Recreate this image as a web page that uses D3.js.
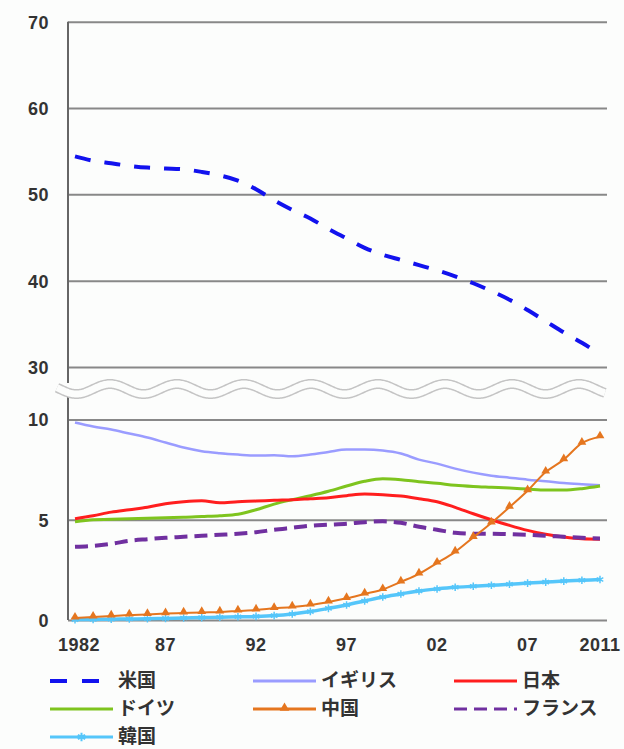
<!DOCTYPE html>
<html>
<head>
<meta charset="utf-8">
<script src="https://cdn.jsdelivr.net/npm/d3@7"></script>
<style>
  html, body { margin: 0; padding: 0; background: #fcfdfc; }
  svg { display: block; }
  .num { font-family: "Liberation Sans", Arial, sans-serif; font-weight: bold; font-size: 18px; fill: #333; }
  .leg { font-family: "Noto Sans CJK JP", sans-serif; font-weight: bold; font-size: 19px; fill: #333; }
</style>
</head>
<body>
<svg id="chart" width="624" height="749"></svg>
<script>
// Share by country, 1982–2011 (%)
const years = d3.range(1982, 2012);
const usa     = [54.4,53.9,53.6,53.3,53.1,53.0,52.9,52.6,52.2,51.6,50.6,49.3,48.2,47.2,46.0,44.9,43.8,43.0,42.4,41.8,41.2,40.5,39.7,38.8,37.8,36.6,35.3,34.0,32.8,31.5];
const uk      = [9.85,9.65,9.5,9.3,9.1,8.85,8.6,8.42,8.32,8.25,8.2,8.22,8.17,8.25,8.38,8.5,8.5,8.45,8.3,8.0,7.8,7.55,7.35,7.2,7.1,7.0,6.92,6.83,6.77,6.72];
const japan   = [5.05,5.2,5.38,5.5,5.62,5.8,5.9,5.95,5.85,5.9,5.93,5.97,6.0,6.05,6.1,6.2,6.28,6.25,6.18,6.05,5.9,5.62,5.3,5.0,4.72,4.47,4.28,4.14,4.05,4.03];
const germany = [4.9,5.0,5.02,5.05,5.07,5.1,5.12,5.16,5.2,5.27,5.5,5.78,6.0,6.2,6.42,6.68,6.92,7.05,7.0,6.9,6.82,6.72,6.66,6.62,6.58,6.53,6.48,6.48,6.55,6.68];
const china   = [0.1,0.15,0.2,0.25,0.28,0.32,0.35,0.38,0.4,0.45,0.5,0.58,0.65,0.75,0.9,1.08,1.3,1.52,1.9,2.3,2.84,3.4,4.12,4.84,5.63,6.45,7.38,8.0,8.82,9.14];
const france  = [3.65,3.7,3.8,3.95,4.03,4.1,4.15,4.2,4.25,4.3,4.38,4.5,4.6,4.7,4.75,4.8,4.88,4.92,4.85,4.65,4.5,4.35,4.3,4.3,4.28,4.25,4.2,4.15,4.1,4.07];
const korea   = [0.02,0.03,0.04,0.05,0.06,0.08,0.1,0.12,0.14,0.16,0.18,0.22,0.3,0.42,0.58,0.75,0.95,1.15,1.3,1.45,1.55,1.63,1.68,1.73,1.78,1.84,1.89,1.94,1.98,2.02];

const xTickYears  = [1982, 1987, 1992, 1997, 2002, 2007, 2011];
const xTickLabels = ["1982", "87", "92", "97", "02", "07", "2011"];
const topTicks = [30, 40, 50, 60, 70];
const bottomTicks = [0, 5, 10];

const svg = d3.select("#chart");

const axisX = 68, plotRight = 607;
const x = d3.scaleLinear().domain([1982, 2011]).range([75, 600]);
const yTop = d3.scaleLinear().domain([30, 70]).range([367, 21.7]);
const yBot = d3.scaleLinear().domain([0, 10]).range([620, 419.5]);

// gridlines + tick labels for each panel
function panelAxis(scale, ticks) {
  const g = svg.append("g").attr("transform", `translate(${axisX},0)`)
    .call(d3.axisLeft(scale).tickValues(ticks).tickSizeInner(-(plotRight - axisX)).tickSizeOuter(0).tickPadding(19));
  g.select(".domain").remove();
  g.selectAll(".tick line").attr("stroke", "#888").attr("stroke-width", 2);
  g.selectAll(".tick text").attr("class", "num").attr("dy", "0.36em").attr("letter-spacing", "0.5px");
  return g;
}
panelAxis(yTop, topTicks);
panelAxis(yBot, bottomTicks);

// vertical axis line, interrupted at the break
svg.append("line").attr("x1", axisX).attr("x2", axisX).attr("y1", yTop(70)).attr("y2", 383)
  .attr("stroke", "#666").attr("stroke-width", 2);
svg.append("line").attr("x1", axisX).attr("x2", axisX).attr("y1", 396).attr("y2", yBot(0))
  .attr("stroke", "#666").attr("stroke-width", 2);

// scale-break band (wavy)
const wavePts = d3.range(57, 606, 1).map(px => [px, 389 - 5 * Math.cos(2 * Math.PI * (px - 110) / 67)]);
const wavePath = d3.line()(wavePts);
svg.append("path").attr("d", wavePath).attr("fill", "none").attr("stroke", "#c4c4c4").attr("stroke-width", 10);
svg.append("path").attr("d", wavePath).attr("fill", "none").attr("stroke", "#fcfdfc").attr("stroke-width", 7);

// x tick labels
svg.append("g").selectAll("text").data(xTickYears).join("text")
  .attr("class", "num").attr("letter-spacing", "0.5px")
  .attr("x", d => x(d) + (d === 1982 ? 4 : 0)).attr("y", 651)
  .attr("text-anchor", "middle").text((d, i) => xTickLabels[i]);

// series lines
const series = [
  { name: "米国",   values: usa,     scale: yTop, color: "#1212ee", width: 4,   dash: "16,14" },
  { name: "イギリス", values: uk,     scale: yBot, color: "#9a9cff", width: 2.5, dash: null },
  { name: "日本",   values: japan,   scale: yBot, color: "#ff1e1e", width: 3,   dash: null },
  { name: "ドイツ",  values: germany, scale: yBot, color: "#7ec41e", width: 3,   dash: null },
  { name: "中国",   values: china,   scale: yBot, color: "#e5761f", width: 2,   dash: null, marker: "tri" },
  { name: "フランス", values: france,  scale: yBot, color: "#7030a0", width: 4,   dash: "13,7" },
  { name: "韓国",   values: korea,   scale: yBot, color: "#55c6fa", width: 3.5, dash: null, marker: "star" }
];

const drawOrder = ["米国", "イギリス", "ドイツ", "日本", "フランス", "韓国", "中国"];
drawOrder.forEach(n => {
  const s = series.find(d => d.name === n);
  const line = d3.line().x((d, i) => x(years[i])).y(d => s.scale(d)).curve(d3.curveMonotoneX);
  svg.append("path").datum(s.values).attr("d", line)
    .attr("fill", "none").attr("stroke", s.color).attr("stroke-width", s.width)
    .attr("stroke-dasharray", s.dash).attr("stroke-linejoin", "round");
  if (s.marker === "tri") {
    svg.append("g").selectAll("path").data(s.values).join("path")
      .attr("transform", (d, i) => `translate(${x(years[i])},${s.scale(d) - 1})`)
      .attr("d", d3.symbol(d3.symbolTriangle, 34)).attr("fill", s.color);
  } else if (s.marker === "star") {
    svg.append("g").selectAll("path").data(s.values).join("path")
      .attr("transform", (d, i) => `translate(${x(years[i])},${s.scale(d)})`)
      .attr("d", d3.symbol(d3.symbolAsterisk, 40)).attr("fill", "none")
      .attr("stroke", s.color).attr("stroke-width", 1.5);
  }
});

// legend
const legendCols = [50, 253, 454];
const legendRows = [681, 709, 737];
const lineLen = 63;
const leg = svg.append("g");
series.forEach((s, i) => {
  const cx = legendCols[i % 3], cy = legendRows[Math.floor(i / 3)];
  const g = leg.append("g").attr("transform", `translate(${cx},${cy})`);
  g.append("line").attr("x1", 0).attr("x2", lineLen).attr("y1", 0).attr("y2", 0)
    .attr("stroke", s.color).attr("stroke-width", s.name === "米国" ? 4 : 3)
    .attr("stroke-dasharray", s.name === "米国" ? "17,15" : s.dash);
  if (s.marker === "tri") {
    g.append("path").attr("transform", `translate(${lineLen / 2},-1)`)
      .attr("d", d3.symbol(d3.symbolTriangle, 40)).attr("fill", s.color);
  } else if (s.marker === "star") {
    g.append("path").attr("transform", `translate(${lineLen / 2},0)`)
      .attr("d", d3.symbol(d3.symbolAsterisk, 50)).attr("fill", "none")
      .attr("stroke", s.color).attr("stroke-width", 2);
  }
  g.append("text").attr("class", "leg").attr("x", s.name === "米国" ? 68 : lineLen + 5).attr("y", 0)
    .attr("dy", "0.33em").text(s.name);
});
</script>
</body>
</html>
